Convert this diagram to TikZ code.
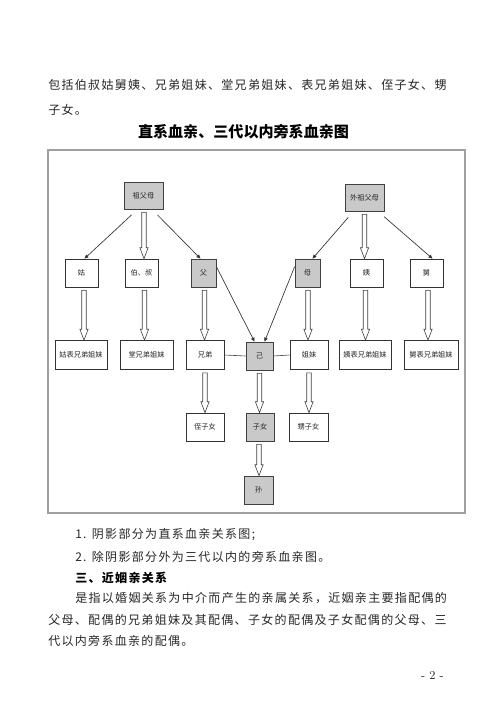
\documentclass[tikz,border=0pt]{standalone}
\usepackage{fontspec}
\usetikzlibrary{arrows.meta,calc}
\newfontfamily\cjk{Noto Sans CJK SC}
\newfontfamily\cjkbody[LetterSpace=11]{Noto Sans CJK SC}
\tikzset{
  bx/.style 2 args={draw=black!80, line width=0.55pt, fill=white, inner sep=0pt,
    minimum width=#1*0.75pt, minimum height=#2*0.75pt,
    font=\cjk\fontsize{5.4pt}{6pt}\selectfont, text=black!85},
  shaded/.style={fill=gray!42, draw=black!75},
  hollow/.style={draw=black!75, line width=0.45pt, fill=white,
    to path={let \p1=(\tikztostart), \p2=(\tikztotarget) in
      (\x1-1.7pt,\y1-2.2pt) -- (\x1-1.7pt,\y2+8.2pt) -- (\x1-3.1pt,\y2+8.2pt) -- (\x1,\y2)
      -- (\x1+3.1pt,\y2+8.2pt) -- (\x1+1.7pt,\y2+8.2pt) -- (\x1+1.7pt,\y1-2.2pt) -- cycle}},
  thinarrow/.style={draw=black!80, line width=0.5pt, -{Triangle[length=3pt,width=2.6pt]}},
  plain/.style={draw=black!75, line width=0.45pt},
  bodytext/.style={anchor=west, inner sep=0pt, text=black!85,
    font=\cjkbody\fontsize{9pt}{9pt}\selectfont},
}
\begin{document}
\begin{tikzpicture}[x=0.75pt,y=-0.75pt]
\useasboundingbox (0,0) rectangle (500,707);
% text above
\node[bodytext] (l1) at (48,85) {包括伯叔姑舅姨、兄弟姐妹、堂兄弟姐妹、表兄弟姐妹、侄子女、甥};
\node[bodytext] (l2) at (48,110) {子女。};
\node[inner sep=0pt, text=black, font=\cjk\bfseries\fontsize{11.3pt}{12pt}\selectfont] (title) at (243.5,132) {直系血亲、三代以内旁系血亲图};
% frame
\draw[gray!75, line width=1.1pt] (48,150) rectangle (465,513);
% nodes
\node[bx={39}{27}, shaded] (zfm) at (143.5,195.5) {祖父母};
\node[bx={39}{27}, shaded] (wzfm) at (364.5,197.5) {外祖父母};
\node[bx={33}{28}] (gu) at (81.5,273) {姑};
\node[bx={33}{28}] (bs) at (141.5,273) {伯、叔};
\node[bx={25}{28}, shaded] (fu) at (203.5,273) {父};
\node[bx={25}{28}, shaded] (mu) at (307.5,273) {母};
\node[bx={33}{28}] (yi) at (366.5,273) {姨};
\node[bx={33}{28}] (jiu) at (426.5,273) {舅};
\node[bx={52}{29}] (gbx) at (81,355) {姑表兄弟姐妹};
\node[bx={53}{29}] (tx) at (146.5,355) {堂兄弟姐妹};
\node[bx={38}{29}] (xd) at (205,355) {兄弟};
\node[bx={27}{28}, shaded] (ji) at (259.5,356) {己};
\node[bx={38}{29}] (jm) at (309,355) {姐妹};
\node[bx={52}{29}] (ybx) at (365,355) {姨表兄弟姐妹};
\node[bx={54}{29}] (jbx) at (431,355) {舅表兄弟姐妹};
\node[bx={38}{28}] (zzn) at (205,427) {侄子女};
\node[bx={28}{28}, shaded] (zn) at (260,427) {子女};
\node[bx={39}{28}] (szn) at (308.5,427) {甥子女};
\node[bx={29}{28}, shaded] (sun) at (258.5,490) {孙};
% thin arrows
\draw[thinarrow, shorten <=6pt] ($(zfm.south)+(-6,0)$) -- ($(gu.north)+(3,0)$);
\draw[thinarrow, shorten <=6pt] ($(zfm.south)+(8.5,0)$) -- ($(fu.north)+(-3,0)$);
\draw[thinarrow, shorten <=6pt] ($(wzfm.south)+(-11,0)$) -- ($(mu.north)+(5,0)$);
\draw[thinarrow, shorten <=6pt] ($(wzfm.south)+(13.5,0)$) -- ($(jiu.north)+(6,0)$);
\draw[thinarrow] ($(fu.north east)+(0,8)$) -- ($(ji.north)+(-5,0)$);
\draw[thinarrow] ($(mu.north west)+(0,8)$) -- ($(ji.north)+(5,0)$);
% plain lines
\draw[plain] (xd.east) -- (ji.west);
\draw[plain] (ji.east) -- (jm.west);
% hollow arrows
\path[hollow] ($(zfm.south)+(0.5,0)$) to (bs.north);
\path[hollow] (wzfm.south) to (yi.north);
\path[hollow] ($(gu.south)+(2.5,0)$) to (gbx.north);
\path[hollow] ($(bs.south)+(3,0)$) to (tx.north);
\path[hollow] ($(fu.south)+(1,0)$) to (xd.north);
\path[hollow] ($(mu.south)+(0.5,0)$) to (jm.north);
\path[hollow] ($(yi.south)+(-1,0)$) to (ybx.north);
\path[hollow] ($(jiu.south)+(1.5,0)$) to (jbx.north);
\path[hollow] (xd.south) to (zzn.north);
\path[hollow] (ji.south) to (zn.north);
\path[hollow] (jm.south) to (szn.north);
\path[hollow] ($(zn.south)+(-1,0)$) to (sun.north);
% text below
\node[bodytext] (n1) at (75,535) {1. 阴影部分为直系血亲关系图;};
\node[bodytext] (n2) at (75,557) {2. 除阴影部分外为三代以内的旁系血亲图。};
\node[bodytext, font=\cjkbody\bfseries\fontsize{9pt}{9pt}\selectfont, text=black] (h3) at (75,578) {三、近姻亲关系};
\node[bodytext] (p1) at (75,598) {是指以婚姻关系为中介而产生的亲属关系，近姻亲主要指配偶的};
\node[bodytext] (p2) at (48,620) {父母、配偶的兄弟姐妹及其配偶、子女的配偶及子女配偶的父母、三};
\node[bodytext] (p3) at (48,641) {代以内旁系血亲的配偶。};
\node[inner sep=0pt, text=black!85, font=\fontsize{9pt}{9pt}\selectfont] (pg) at (432.5,675) {- 2 -};
\end{tikzpicture}
\end{document}
